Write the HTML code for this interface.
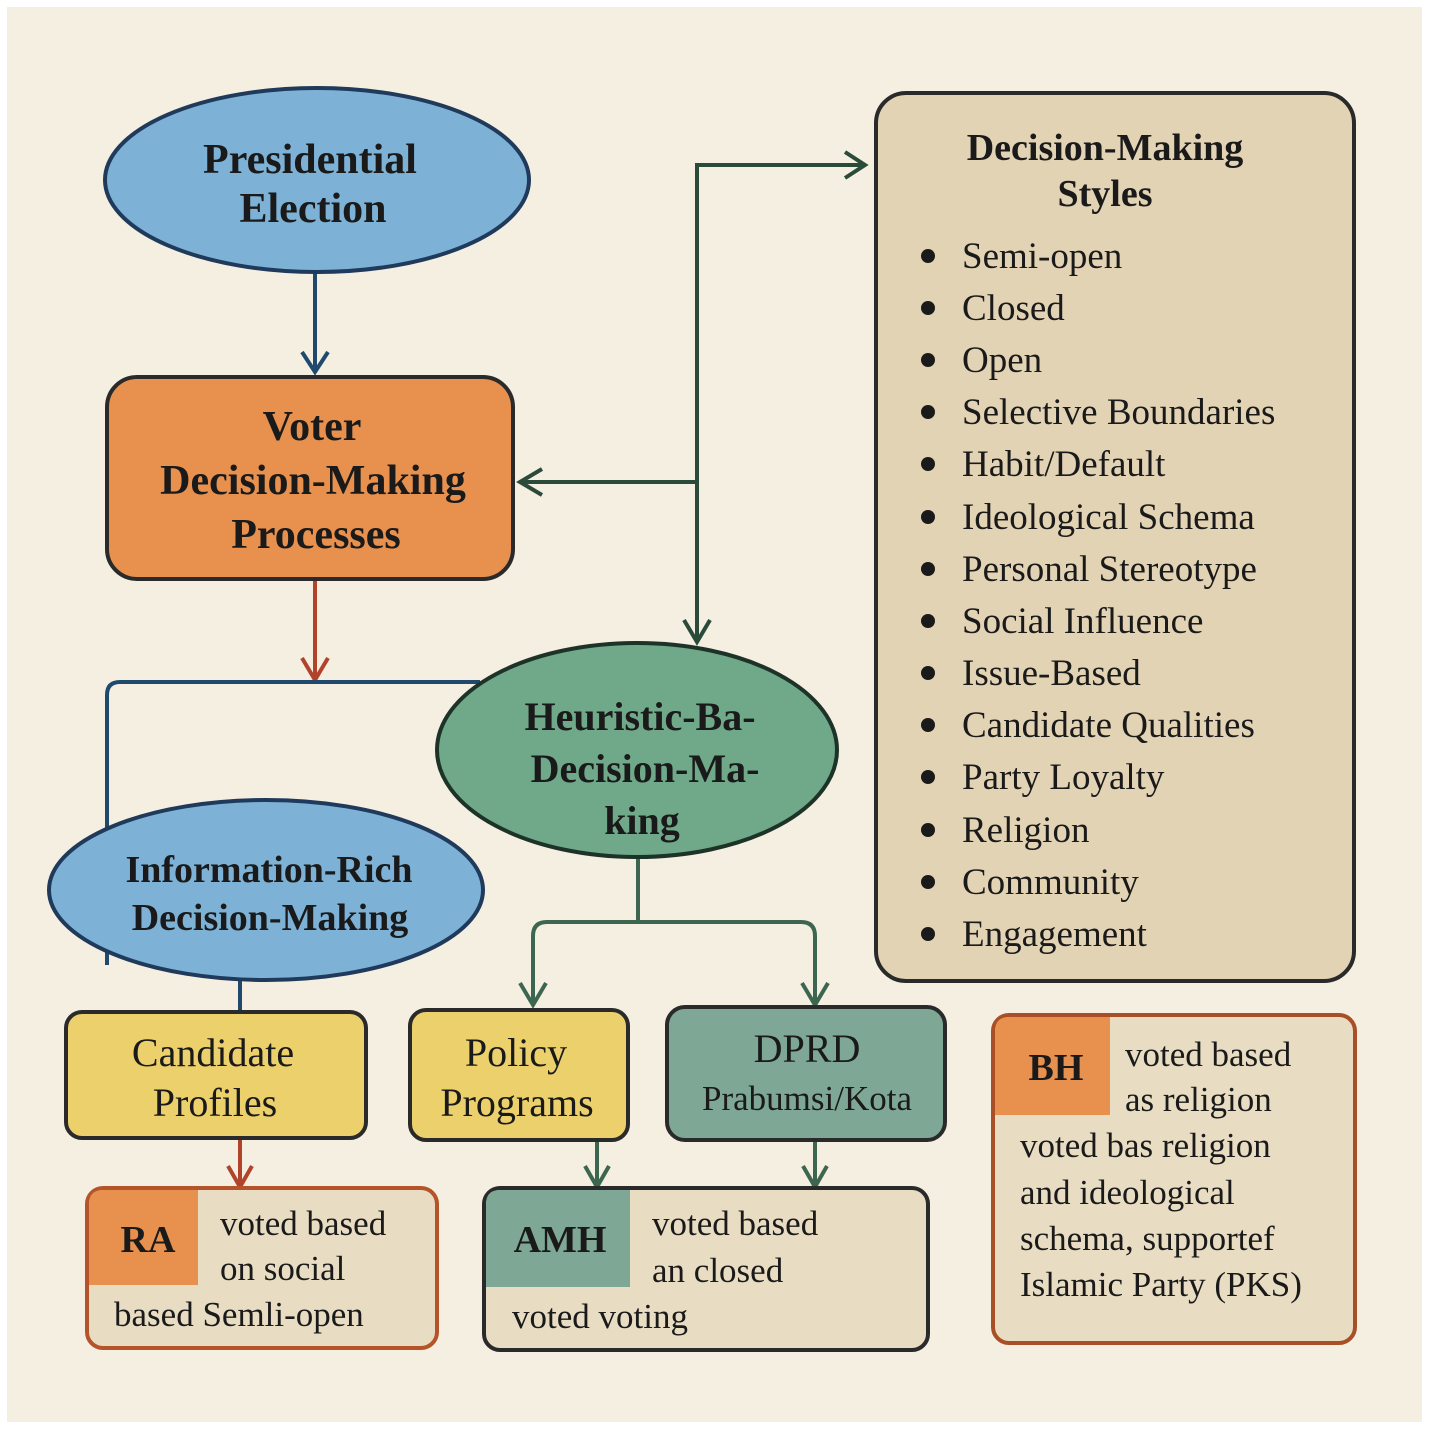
<!DOCTYPE html>
<html><head><meta charset="utf-8"><style>
html,body{margin:0;padding:0;background:#fff;}
svg{display:block;}
text{font-family:"Liberation Serif",serif;fill:#1a1a1a;}
.b{font-weight:bold;}
</style></head><body>
<svg width="1429" height="1429" viewBox="0 0 1429 1429" xmlns="http://www.w3.org/2000/svg">
<defs>
<marker id="ab" markerWidth="10" markerHeight="10" refX="5" refY="8" orient="auto" markerUnits="userSpaceOnUse" viewBox="0 0 10 10"><path d="M0,0 L5,8 L10,0" fill="none" stroke="#1f4a6e" stroke-width="0"/></marker>
</defs>
<rect x="7" y="7" width="1415" height="1415" fill="#f5efe2"/>

<!-- connectors -->
<g fill="none" stroke-width="4">
<path d="M315 272 V370" stroke="#1f4a6e"/>
<path d="M302 352 L315 372 L328 352" stroke="#1f4a6e"/>
<path d="M315 580 V678" stroke="#b0432a"/>
<path d="M302 658 L315 680 L328 658" stroke="#b0432a"/>
<path d="M107 965 V695 Q107 682 120 682 H480" stroke="#1f4a6e"/>
<path d="M240 978 V1012" stroke="#1f4a6e"/>
<path d="M697 640 V165 H862" stroke="#2a4a3a"/>
<path d="M845 152 L865 165 L845 178" stroke="#2a4a3a"/>
<path d="M684 620 L697 642 L710 620" stroke="#2a4a3a"/>
<path d="M697 482 H522" stroke="#2a4a3a"/>
<path d="M542 469 L520 482 L542 495" stroke="#2a4a3a"/>
<path d="M638 857 V922" stroke="#3d6650"/>
<path d="M533 1003 V936 Q533 922 547 922 H801 Q815 922 815 936 V1003" stroke="#3d6650"/>
<path d="M520 983 L533 1005 L546 983 M802 983 L815 1005 L828 983" stroke="#3d6650"/>
<path d="M240 1140 V1186" stroke="#b0432a"/>
<path d="M228 1166 L240 1187 L252 1166" stroke="#b0432a"/>
<path d="M597 1140 V1186 M815 1140 V1186" stroke="#3d6650"/>
<path d="M585 1166 L597 1187 L609 1166 M803 1166 L815 1187 L827 1166" stroke="#3d6650"/>
</g>

<!-- Presidential -->
<ellipse cx="317" cy="180" rx="212" ry="92" fill="#7db2d6" stroke="#1f3a5a" stroke-width="4"/>
<text x="310" y="173" font-size="42" class="b" text-anchor="middle">Presidential</text>
<text x="313" y="222" font-size="42" class="b" text-anchor="middle">Election</text>

<!-- Voter -->
<rect x="107" y="377" width="406" height="202" rx="30" fill="#e8914f" stroke="#2a2a2a" stroke-width="4"/>
<text x="312" y="440" font-size="42" class="b" text-anchor="middle">Voter</text>
<text x="313" y="494" font-size="42" class="b" text-anchor="middle">Decision-Making</text>
<text x="316" y="548" font-size="42" class="b" text-anchor="middle">Processes</text>

<!-- Heuristic -->
<ellipse cx="637" cy="750" rx="200" ry="107" fill="#6fa98a" stroke="#1e3328" stroke-width="4"/>
<text x="640" y="730" font-size="40" class="b" text-anchor="middle">Heuristic-Ba-</text>
<text x="645" y="782" font-size="40" class="b" text-anchor="middle">Decision-Ma-</text>
<text x="642" y="834" font-size="40" class="b" text-anchor="middle">king</text>

<!-- Info-Rich -->
<ellipse cx="266" cy="890" rx="217" ry="90" fill="#7db2d6" stroke="#1f3a5a" stroke-width="4"/>
<text x="269" y="882" font-size="38" class="b" text-anchor="middle">Information-Rich</text>
<text x="270" y="930" font-size="38" class="b" text-anchor="middle">Decision-Making</text>

<!-- Styles box -->
<rect x="876" y="93" width="478" height="888" rx="30" fill="#e3d3b5" stroke="#2a2a2a" stroke-width="4"/>
<text x="1105" y="160" font-size="38" class="b" text-anchor="middle">Decision-Making</text>
<text x="1105" y="206" font-size="38" class="b" text-anchor="middle">Styles</text>
<g font-size="37">
<text x="962" y="268">Semi-open</text>
<text x="962" y="320">Closed</text>
<text x="962" y="372">Open</text>
<text x="962" y="424">Selective Boundaries</text>
<text x="962" y="476">Habit/Default</text>
<text x="962" y="529">Ideological Schema</text>
<text x="962" y="581">Personal Stereotype</text>
<text x="962" y="633">Social Influence</text>
<text x="962" y="685">Issue-Based</text>
<text x="962" y="737">Candidate Qualities</text>
<text x="962" y="789">Party Loyalty</text>
<text x="962" y="842">Religion</text>
<text x="962" y="894">Community</text>
<text x="962" y="946">Engagement</text>
</g>
<g fill="#1a1a1a">
<circle cx="928" cy="256" r="7"/><circle cx="928" cy="308" r="7"/><circle cx="928" cy="360" r="7"/><circle cx="928" cy="412" r="7"/><circle cx="928" cy="464" r="7"/><circle cx="928" cy="517" r="7"/><circle cx="928" cy="569" r="7"/><circle cx="928" cy="621" r="7"/><circle cx="928" cy="673" r="7"/><circle cx="928" cy="725" r="7"/><circle cx="928" cy="777" r="7"/><circle cx="928" cy="830" r="7"/><circle cx="928" cy="882" r="7"/><circle cx="928" cy="934" r="7"/>
</g>

<!-- middle boxes -->
<rect x="66" y="1012" width="300" height="126" rx="16" fill="#ecd06c" stroke="#2a2a2a" stroke-width="4"/>
<text x="213" y="1066" font-size="40" text-anchor="middle">Candidate</text>
<text x="215" y="1116" font-size="40" text-anchor="middle">Profiles</text>
<rect x="410" y="1010" width="218" height="130" rx="16" fill="#ecd06c" stroke="#2a2a2a" stroke-width="4"/>
<text x="516" y="1066" font-size="40" text-anchor="middle">Policy</text>
<text x="517" y="1116" font-size="40" text-anchor="middle">Programs</text>
<rect x="667" y="1007" width="278" height="133" rx="18" fill="#7ea895" stroke="#2a2a2a" stroke-width="4"/>
<text x="807" y="1062" font-size="40" text-anchor="middle">DPRD</text>
<text x="807" y="1110" font-size="35" text-anchor="middle">Prabumsi/Kota</text>

<!-- RA -->
<rect x="87" y="1188" width="350" height="160" rx="16" fill="#e8dcc3" stroke="#b5542a" stroke-width="4"/>
<path d="M89 1204 Q89 1190 103 1190 H198 V1285 H89 Z" fill="#e8914f"/>
<text x="148" y="1252" font-size="38" class="b" text-anchor="middle">RA</text>
<text x="220" y="1235" font-size="35">voted based</text>
<text x="220" y="1280" font-size="35">on social</text>
<text x="114" y="1326" font-size="35">based Semli-open</text>

<!-- AMH -->
<rect x="484" y="1188" width="444" height="162" rx="16" fill="#e8dcc3" stroke="#2a2a2a" stroke-width="4"/>
<path d="M486 1204 Q486 1190 500 1190 H630 V1287 H486 Z" fill="#7ea895"/>
<text x="560" y="1252" font-size="38" class="b" text-anchor="middle">AMH</text>
<text x="652" y="1235" font-size="35">voted based</text>
<text x="652" y="1282" font-size="35">an closed</text>
<text x="512" y="1328" font-size="35">voted voting</text>

<!-- BH -->
<rect x="993" y="1015" width="362" height="328" rx="16" fill="#e8dcc3" stroke="#a84f28" stroke-width="4"/>
<path d="M995 1031 Q995 1017 1009 1017 H1110 V1115 H995 Z" fill="#e8914f"/>
<text x="1056" y="1080" font-size="38" class="b" text-anchor="middle">BH</text>
<text x="1125" y="1066" font-size="35">voted based</text>
<text x="1125" y="1111" font-size="35">as  religion</text>
<text x="1020" y="1157" font-size="35">voted bas religion</text>
<text x="1020" y="1204" font-size="35">and ideological</text>
<text x="1020" y="1250" font-size="35">schema, supportef</text>
<text x="1020" y="1296" font-size="35">Islamic Party (PKS)</text>
</svg>
</body></html>
